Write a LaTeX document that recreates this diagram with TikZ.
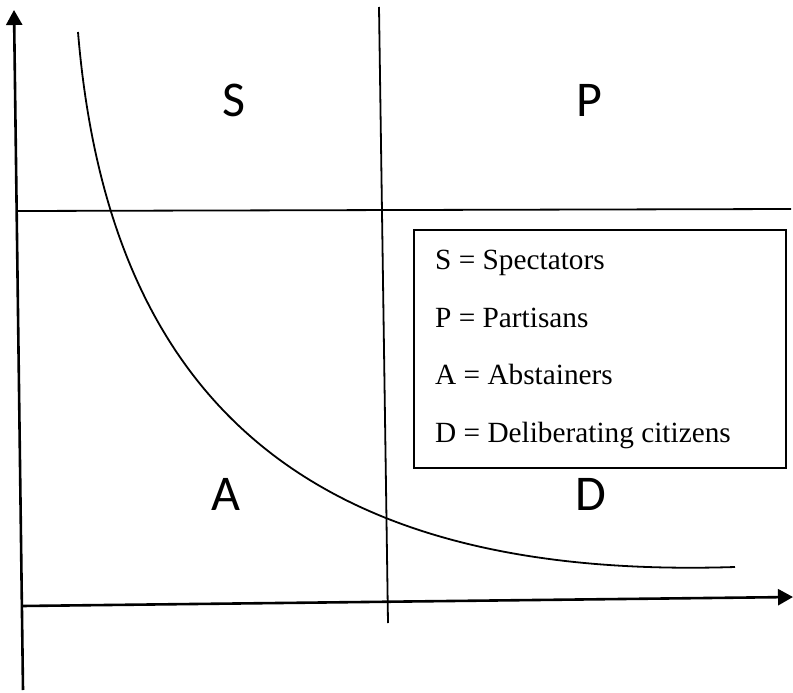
\documentclass[tikz,border=0pt]{standalone}
\usepackage{fontspec}
\setmainfont{Liberation Serif}
\newfontfamily\quadfont{Carlito}
\usetikzlibrary{arrows.meta}
\begin{document}
\begin{tikzpicture}[x=1pt,y=-1pt,
  axisline/.style={line width=2.6pt,-{Triangle[length=15pt,width=16pt]}},
  divline/.style={line width=1.8pt},
  quad/.style={font=\quadfont\fontsize{50}{60}\selectfont,anchor=base,inner sep=0pt},
  legtext/.style={font=\fontsize{29.3}{34}\selectfont,anchor=base west,inner sep=0pt}]
\useasboundingbox (0,0) rectangle (793,693);
% axes
\coordinate (yb) at (23,690);
\coordinate (yt) at (14,10);
\coordinate (xl) at (22,606);
\coordinate (xr) at (793,597);
\draw[axisline] (yb) -- (yt);
\draw[axisline] (xl) -- (xr);
% dividers
\coordinate (vt) at (379,7);
\coordinate (vb) at (388,623);
\coordinate (hl) at (18,211);
\coordinate (hr) at (791,209);
\draw[divline] (vt) -- (vb);
\draw[divline] (hl) -- (hr);
% curve
\coordinate (cs) at (78,32);
\coordinate (ce) at (735,567);
\draw[divline] (cs) .. controls (110,420) and (330,580) .. (ce);
% quadrant labels
\node[quad] (S) at (234,117) {S};
\node[quad] (P) at (589,117) {P};
\node[quad] (A) at (226,510) {A};
\node[quad] (D) at (591,510) {D};
% legend
\draw[divline] (414,230) rectangle (786,468);
\node[legtext] (l1) at (435,269) {S = Spectators};
\node[legtext] (l2) at (435,327) {P = Partisans};
\node[legtext] (l3) at (435,384) {A = Abstainers};
\node[legtext] (l4) at (435,442) {D = Deliberating citizens};
\end{tikzpicture}
\end{document}
